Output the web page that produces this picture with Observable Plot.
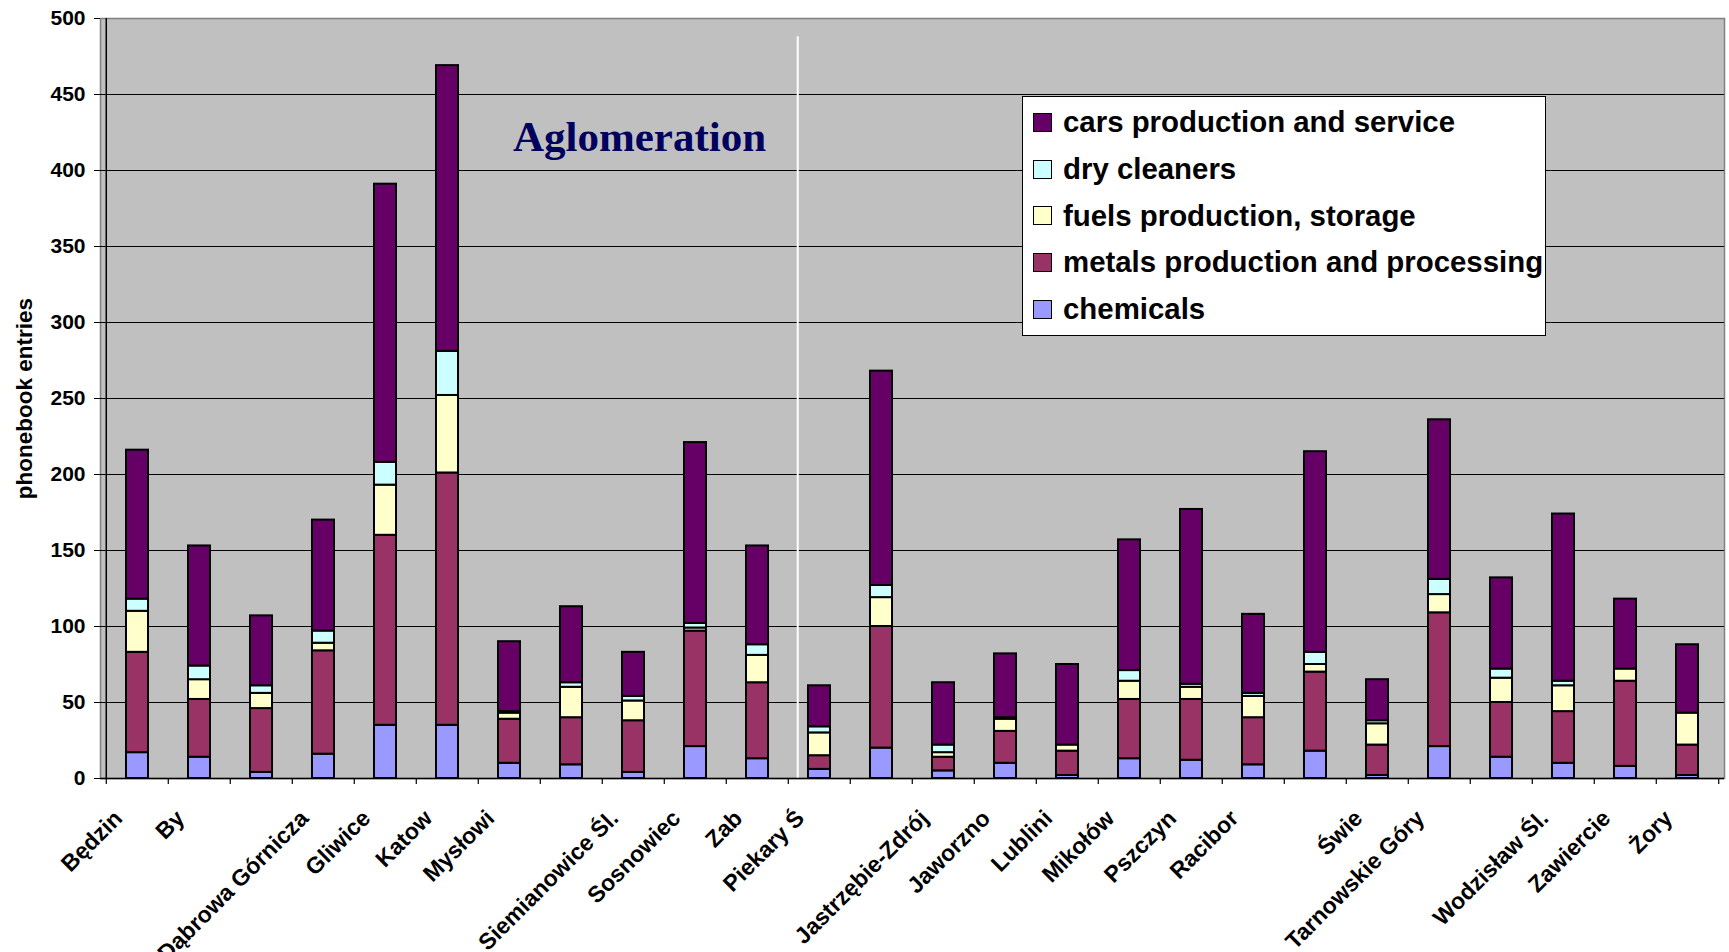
<!DOCTYPE html>
<html><head><meta charset="utf-8">
<script src="https://cdn.jsdelivr.net/npm/d3@7"></script>
<script src="https://cdn.jsdelivr.net/npm/@observablehq/plot@0.6"></script>
<style>
html,body{margin:0;padding:0;background:#fff;overflow:hidden}
#wrap{position:relative;width:1729px;height:952px}
#legend{position:absolute;left:1022px;top:96px;width:522px;height:236px;border:1.5px solid #000;background:#fff;font:bold 29.4px "Liberation Sans",Arial,sans-serif;color:#000;padding-top:2px}
.row{height:46.7px;display:flex;align-items:center;white-space:nowrap}
.sw{width:17px;height:17px;border:1.5px solid #000;margin-left:10px;margin-right:11px;flex:none}
</style></head><body><div id="wrap"></div>
<script>
// category tick labels as they appear (blank where the reference shows none)
const labels = ["Będzin","By","","Dąbrowa Górnicza","Gliwice","Katow","Mysłowi","","Siemianowice Śl.","Sosnowiec","Zab","Piekary Ś","","Jastrzębie-Zdrój","Jaworzno","Lublini","Mikołów","Pszczyn","Racibor","","Świe","Tarnowskie Góry","","Wodzisław Śl.","Zawiercie","Żory"];

// series, bottom to top
const series = ["chemicals","metals production and processing","fuels production, storage","dry cleaners","cars production and service"];
const colors = ["#9999FF","#993366","#FFFFCC","#CCFFFF","#660066"];

const chemicals = [17,14,4,16,35,35,10,9,4,21,13,6,20,5,10,2,13,12,9,18,2,21,14,10,8,2];
const metals    = [66,38,42,68,125,166,29,31,34,76,50,9,80,9,21,16,39,40,31,52,20,88,36,34,56,20];
const fuels     = [27,13,10,5,33,51,4,20,13,2,18,15,19,3,8,4,12,8,14,5,14,12,16,17,8,21];
const dryCleaners = [8,9,5,8,15,29,1,3,3,3,7,4,8,5,1,0,7,2,2,8,2,10,6,3,0,0];
const cars      = [98,79,46,73,183,188,46,50,29,119,65,27,141,41,42,53,86,115,52,132,27,105,60,110,46,45];

const yTicks = [0,50,100,150,200,250,300,350,400,450,500];
const yLabel = "phonebook entries";
const annotation = {text: "Aglomeration", at: 8, value: 413};
const dividerAfter = 10;      // white separator after this category
const dividerTop = 488;

const values = [chemicals, metals, fuels, dryCleaners, cars];
const idx = d3.range(labels.length);
const rows = [];
idx.forEach(i => series.forEach((s, k) => { if (values[k][i] > 0) rows.push({i, s, v: values[k][i]}); }));

const W = 1729, H = 952, ML = 100, MR = 5, MT = 18, MB = 174;
const step = (W - ML - MR) / labels.length;
const font = '"Liberation Sans", Arial, sans-serif';

const chart = Plot.plot({
  width: W, height: H,
  marginLeft: ML, marginRight: MR, marginTop: MT, marginBottom: MB,
  style: {background: "transparent", fontFamily: font, overflow: "visible", color: "#000"},
  x: {domain: idx, paddingInner: 0.64, paddingOuter: 0.32, axis: null},
  y: {domain: [0, 500], axis: null},
  color: {domain: series, range: colors},
  marks: [
    Plot.frame({fill: "#c0c0c0", stroke: "#808080", strokeWidth: 1.5}),
    Plot.gridY(yTicks.filter(t => t > 0 && t < 500), {stroke: "#000", strokeOpacity: 1, strokeWidth: 1.2}),
    Plot.ruleX([dividerAfter], {x: d => d, dx: step / 2 + 9, y1: 0, y2: dividerTop, stroke: "#fff", strokeWidth: 2}),
    Plot.barY(rows, Plot.stackY({x: "i", y: "v", fill: "s", stroke: "#000", strokeWidth: 2})),
    Plot.ruleY([0], {stroke: "#000", strokeWidth: 1.5}),
    Plot.ruleX([0], {x: d => d, dx: -step / 2, y1: 0, y2: 500, stroke: "#000", strokeWidth: 1.5}),
    Plot.ruleX(idx, {x: d => d, dx: -step / 2, y1: 0, y2: 0, insetBottom: -6, stroke: "#000", strokeWidth: 1.2}),
    Plot.ruleX([idx[idx.length - 1]], {x: d => d, dx: step / 2, y1: 0, y2: 0, insetBottom: -6, stroke: "#000", strokeWidth: 1.2}),
    Plot.axisY({ticks: yTicks, tickSize: 6, tickPadding: 9, fontSize: 21, fontWeight: "bold", label: null, stroke: "#000"}),
    Plot.axisX({tickFormat: i => labels[i], tickRotate: -45, tickSize: 0, tickPadding: 36, dx: -19, fontSize: 23, fontWeight: "bold", label: null}),
    Plot.text([yLabel], {text: d => d, frameAnchor: "left", dx: -76, rotate: -90, fontSize: 22.5, fontWeight: "bold", textAnchor: "middle", lineAnchor: "middle", style: "letter-spacing:0.6px"}),
    Plot.text([annotation], {x: "at", y: "value", text: "text", dx: 6, lineAnchor: "bottom", textAnchor: "middle", fontSize: 43, fontWeight: "bold", fontFamily: '"Liberation Serif", "Times New Roman", serif', fill: "#00005e"})
  ]
});
const wrap = document.getElementById("wrap");
wrap.appendChild(chart);

const legend = document.createElement("div");
legend.id = "legend";
series.slice().reverse().forEach(s => {
  const row = document.createElement("div");
  row.className = "row";
  const sw = document.createElement("span");
  sw.className = "sw";
  sw.style.background = colors[series.indexOf(s)];
  const t = document.createElement("span");
  t.textContent = s;
  row.appendChild(sw); row.appendChild(t);
  legend.appendChild(row);
});
wrap.appendChild(legend);
</script>
</body></html>
